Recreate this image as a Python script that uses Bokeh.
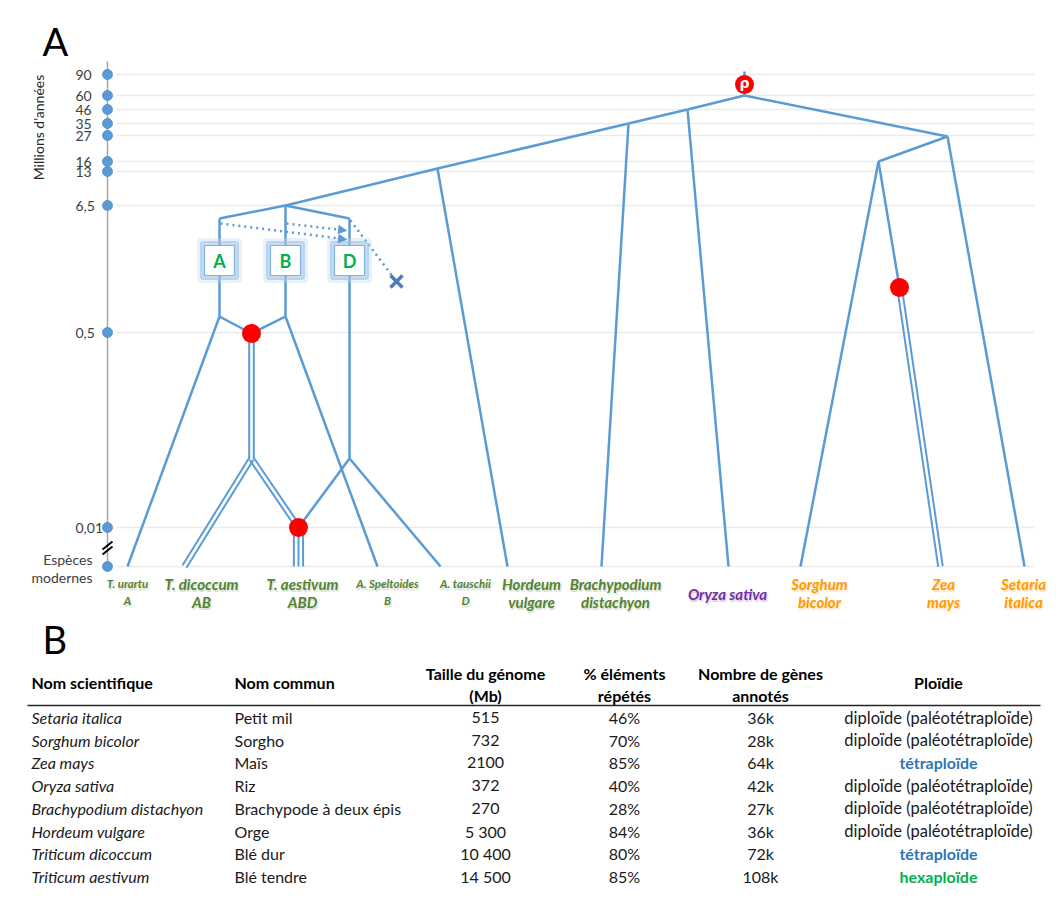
import math
from bokeh.plotting import figure
from bokeh.models import Range1d, Arrow, NormalHead
from bokeh.core.properties import value
from bokeh.embed import file_html
from bokeh.resources import INLINE

FONT = "Lato"
BLUE = "#5B9BD5"
RED = "#FF0000"

# ---------------- Panel A data ----------------
# time scale (Millions d'annees) and the level of each mark on the (broken) axis
age_labels = ["90", "60", "46", "35", "27", "16", "13", "6,5", "0,5", "0,01"]
age_level = [78, 99, 113, 127, 139, 165, 175, 209, 336, 531]
modern_labels = ["Espèces", "modernes"]
modern_level = 570

# tree nodes: name -> (horizontal position, time level)
nodes = {
    "root": (750, 99), "n_oryza": (693, 113), "n_brachy": (634, 127),
    "n_hordeum": (443, 172), "n_trit": (291, 209), "n_pan": (953, 140),
    "n_andro": (884, 165), "zea_wgd": (905, 291),
    "A_top": (225, 222), "A_bot": (225, 320), "B_bot": (291, 320),
    "D_top": (355, 222), "D_bot": (355, 462),
    "AB": (257, 337), "AB_split": (257, 462), "ABD": (304, 531),
    "urartu": (133, 570), "dicoccum": (190, 570), "aestivum": (304, 570),
    "speltoides": (383, 570), "tauschii": (446, 570), "hordeum": (513, 570),
    "brachy": (607, 570), "oryza": (734, 570), "sorghum": (806, 570),
    "zea": (946, 570), "setaria": (1030, 570),
}
# edges: (from, to, number of genome copies drawn as parallel lines)
edges = [
    ("root", "n_oryza", 1), ("n_oryza", "n_brachy", 1), ("n_brachy", "n_hordeum", 1),
    ("n_hordeum", "n_trit", 1), ("root", "n_pan", 1),
    ("n_oryza", "oryza", 1), ("n_brachy", "brachy", 1), ("n_hordeum", "hordeum", 1),
    ("n_pan", "setaria", 1), ("n_pan", "n_andro", 1), ("n_andro", "sorghum", 1),
    ("n_andro", "zea_wgd", 1), ("zea_wgd", "zea", 2),
    ("n_trit", "A_top", 1), ("A_top", "A_bot", 1), ("n_trit", "B_bot", 1),
    ("n_trit", "D_top", 1), ("D_top", "D_bot", 1),
    ("A_bot", "AB", 1), ("B_bot", "AB", 1),
    ("A_bot", "urartu", 1), ("B_bot", "speltoides", 1),
    ("AB", "AB_split", 2), ("AB_split", "dicoccum", 2), ("AB_split", "ABD", 2),
    ("D_bot", "ABD", 1), ("D_bot", "tauschii", 1), ("ABD", "aestivum", 3),
]
polyploid_events = ["AB", "ABD", "zea_wgd"]
genome_boxes = ["A", "B", "D"]
genome_box_x = [225, 291, 355]
genome_box_level = 264
# dotted introgression arrows (start, end) and lost lineage
dotted_arrows = [((226, 227), (352, 243)), ((292, 227), (352, 234))]
lost_lineage = ((356, 224), (402, 285))

species_line1 = ["T. urartu", "T. dicoccum", "T. aestivum", "A. Speltoides", "A. tauschii",
                 "Hordeum", "Brachypodium", "Oryza sativa", "Sorghum", "Zea", "Setaria"]
species_line2 = ["A", "AB", "ABD", "B", "D", "vulgare", "distachyon", "", "bicolor", "mays", "italica"]
species_x = [133, 207, 308, 393, 471, 537, 621, 733, 825, 949, 1029]
species_small = [True, False, False, True, True, False, False, False, False, False, False]
species_color = ["#548235"] * 7 + ["#7030A0"] + ["#FF9900"] * 3

# ---------------- Panel B data ----------------
tbl_headers = [["Nom scientifique"], ["Nom commun"], ["Taille du génome", "(Mb)"],
               ["% éléments", "répétés"], ["Nombre de gènes", "annotés"], ["Ploïdie"]]
sci_names = ["Setaria italica", "Sorghum bicolor", "Zea mays", "Oryza sativa",
             "Brachypodium distachyon", "Hordeum vulgare", "Triticum dicoccum", "Triticum aestivum"]
common_names = ["Petit mil", "Sorgho", "Maïs", "Riz", "Brachypode à deux épis", "Orge",
                "Blé dur", "Blé tendre"]
genome_size = ["515", "732", "2100", "372", "270", "5 300", "10 400", "14 500"]
repeats = ["46%", "70%", "85%", "40%", "28%", "84%", "80%", "85%"]
genes = ["36k", "28k", "64k", "42k", "27k", "36k", "72k", "108k"]
ploidy = ["diploïde (paléotétraploïde)", "diploïde (paléotétraploïde)", "tétraploïde",
          "diploïde (paléotétraploïde)", "diploïde (paléotétraploïde)",
          "diploïde (paléotétraploïde)", "tétraploïde", "hexaploïde"]
ploidy_color = {"tétraploïde": "#2E75B6", "hexaploïde": "#00B050"}

# ---------------- figure ----------------
W, H = 1048, 887
X0, Y0 = 6, 4
p = figure(width=W, height=H, x_range=Range1d(X0, X0 + W), y_range=Range1d(Y0 + H, Y0),
           output_backend="svg", toolbar_location=None, min_border=0,
           x_axis_location=None, y_axis_location=None)
p.grid.visible = False
p.outline_line_color = None
p.background_fill_color = "white"


def txt(x, y, t, size, color="#1a1a1a", style="normal", align="left", font=FONT, angle=0, **kw):
    return p.text(x=x, y=y, text=t, text_font=value(font), text_font_size=f"{size}px",
                  text_font_style=style, text_color=color, text_align=align,
                  text_baseline="middle", angle=angle, **kw)


# panel letters
txt([48], [44], ["A"], 38, color="black")
txt([48], [642], ["B"], 38, color="black")

# grid lines for each time level
levels = age_level + [modern_level]
p.segment(x0=[122] * len(levels), y0=levels, x1=[1040] * len(levels), y1=levels,
          line_color="#EBEBEB", line_width=1.5)

# axis
p.segment(x0=[113], y0=[65], x1=[113], y1=[modern_level], line_color="#A6A6A6", line_width=1.5)
p.segment(x0=[108, 108], y0=[553, 558], x1=[118, 118], y1=[545, 550], line_color="black", line_width=2)
p.scatter(x=[113] * len(levels), y=levels, size=10, fill_color=BLUE, line_color="#4A89C8",
          line_width=0.8)
txt([81] * len(age_labels), age_level, age_labels, 14, color="#404040")
txt([98, 98], [563, 581], modern_labels, 14, color="#404040", align="right")
txt([44], [131], ["Millions d'années"], 14, color="#262626", align="center", angle=math.pi / 2)

# root stem and edges
p.segment(x0=[750], y0=[75], x1=[750], y1=[nodes["root"][1]], line_color=BLUE, line_width=2.5)
xs, ys, xs_m, ys_m = [], [], [], []
for a, b, k in edges:
    (x0, y0), (x1, y1) = nodes[a], nodes[b]
    if k == 1:
        xs.append([x0, x1]); ys.append([y0, y1])
        continue
    L = math.hypot(x1 - x0, y1 - y0)
    nx, ny = (y1 - y0) / L, -(x1 - x0) / L
    for i in range(k):
        o = (i - (k - 1) / 2) * 4.6
        xs_m.append([x0 + nx * o, x1 + nx * o]); ys_m.append([y0 + ny * o, y1 + ny * o])
p.multi_line(xs=xs, ys=ys, line_color=BLUE, line_width=2.5)
p.multi_line(xs=xs_m, ys=ys_m, line_color=BLUE, line_width=2)

# dotted arrows / lost lineage
for (sx, sy), (ex, ey) in dotted_arrows:
    p.add_layout(Arrow(x_start=sx, y_start=sy, x_end=ex, y_end=ey, line_color=BLUE,
                       line_width=2.5, line_dash="dotted",
                       end=NormalHead(size=8, fill_color=BLUE, line_color=BLUE, line_width=1)))
(lx0, ly0), (lx1, ly1) = lost_lineage
p.line(x=[lx0, lx1], y=[ly0, ly1], line_color=BLUE, line_width=2.5, line_dash="dotted")
p.scatter(x=[lx1], y=[ly1], marker="x", size=17, line_color="#4A7EBB", line_width=3.5)

# genome boxes with glow
gy = [genome_box_level] * 3
p.rect(x=genome_box_x, y=gy, width=40, height=40, fill_color=None, line_color="#BDD7EE",
       line_width=5, line_alpha=0.35)
p.rect(x=genome_box_x, y=gy, width=35, height=35, fill_color=None, line_color="#9DC3E6",
       line_width=4, line_alpha=0.6)
p.rect(x=genome_box_x, y=gy, width=30, height=30, fill_color="white", line_color="#7FB2E5",
       line_width=1.2)
txt(genome_box_x, gy, genome_boxes, 18, color="#00B050", style="bold", align="center")

# polyploidy events (red dots)
p.scatter(x=[nodes[n][0] for n in polyploid_events], y=[nodes[n][1] for n in polyploid_events],
          size=19, fill_color=RED, line_color=None)
p.scatter(x=[750], y=[88], size=19, fill_color=RED, line_color=None)
txt([750], [86], ["ρ"], 14, color="white", style="bold", align="center", font="DejaVu Sans")

# species labels
for x, l1, l2, small, c in zip(species_x, species_line1, species_line2, species_small, species_color):
    fs = 11.5 if small else 15
    if l2:
        ys_ = [587, 604] if small else [587, 605]
        tt = [l1, l2]
    else:
        ys_ = [597]
        tt = [l1]
    for dx, dy, al in [(1.5, 2, 0.18), (0, 2.5, 0.12)]:
        txt([x] * len(tt), ys_, tt, fs, color=c, style="bold italic", align="center",
            x_offset=dx, y_offset=dy, text_alpha=al)
    txt([x] * len(tt), ys_, tt, fs, color=c, style="bold italic", align="center")

# ---------------- Panel B: table ----------------
col_x = [37, 240, 491, 630, 766, 944]
col_align = ["left", "left", "center", "center", "center", "center"]
for cx, al, hd in zip(col_x, col_align, tbl_headers):
    hy = [686] if len(hd) == 1 else [677, 699]
    txt([cx] * len(hd), hy, hd, 16, color="black", style="bold", align=al)
p.segment(x0=[33], y0=[709], x1=[1046], y1=[709], line_color="#262626", line_width=1.6)

row_y = [721 + 22.7 * i for i in range(len(sci_names))]
txt([col_x[0]] * len(row_y), row_y, sci_names, 16, style="italic")
txt([col_x[1]] * len(row_y), row_y, common_names, 16)
txt([col_x[2]] * len(row_y), row_y, genome_size, 16, align="center")
txt([col_x[3]] * len(row_y), row_y, repeats, 16, align="center")
txt([col_x[4]] * len(row_y), row_y, genes, 16, align="center")
for y, pl in zip(row_y, ploidy):
    if pl in ploidy_color:
        txt([col_x[5]], [y], [pl], 16, color=ploidy_color[pl], style="bold", align="center")
    else:
        txt([col_x[5]], [y], [pl], 16.5, align="center")

open("out.html", "w").write(file_html(p, INLINE))
